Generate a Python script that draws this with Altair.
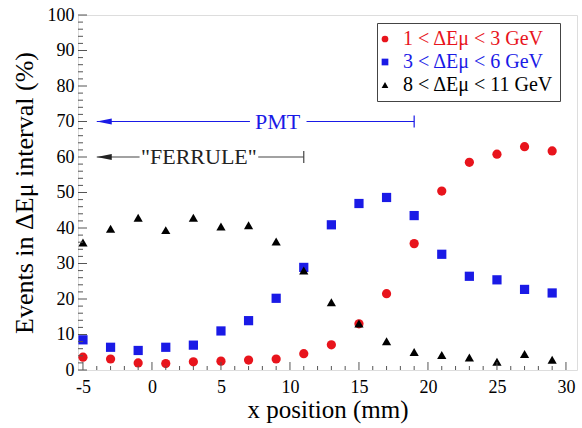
import altair as alt
import pandas as pd

# ---------------- data ----------------
x_pos = [-5, -3, -1, 1, 3, 5, 7, 9, 11, 13, 15, 17, 19, 21, 23, 25, 27, 29]
low_e = [3.6, 3.1, 2.0, 1.8, 2.3, 2.5, 2.8, 3.1, 4.6, 7.1, 13.0, 21.5, 35.6, 50.4, 58.5, 60.8, 62.9, 61.7]
mid_e = [8.5, 6.4, 5.5, 6.4, 7.0, 11.0, 13.9, 20.2, 28.9, 40.9, 46.9, 48.6, 43.5, 32.6, 26.4, 25.4, 22.7, 21.7]
high_e = [35.9, 39.8, 42.9, 39.4, 42.9, 40.4, 40.8, 36.2, 28.0, 19.1, 13.1, 8.1, 5.1, 4.2, 3.5, 2.3, 4.5, 2.9]

series = ["1 < ΔEμ < 3 GeV", "3 < ΔEμ < 6 GeV", "8 < ΔEμ < 11 GeV"]
colors = ["#e8141c", "#1a1ae6", "#000000"]
shapes = ["circle", "square", "triangle-up"]

x_major = [-5, 0, 5, 10, 15, 20, 25, 30]
x_minor = [v for v in range(-4, 31) if v % 5 != 0]
y_major = list(range(0, 101, 10))
y_minor = [v for v in range(2, 100, 2) if v % 10 != 0]

ann_labels = ["PMT", '"FERRULE"']
ann_label_x = [9.1, 3.4]
ann_y = [70, 60]
ann_colors = ["#1a1ae6", "#222222"]
seg_x = [-4, 11.2, -4, 7.7]
seg_x2 = [7.1, 19, -0.9, 11]
seg_y = [70, 70, 60, 60]
seg_c = ["#1a1ae6", "#1a1ae6", "#444444", "#444444"]
tip_x = [-4, -4]
end_x = [19, 11]

# ---------------- tables ----------------
df = pd.DataFrame({
    "x": x_pos * 3,
    "y": low_e + mid_e + high_e,
    "series": [series[0]] * len(x_pos) + [series[1]] * len(x_pos) + [series[2]] * len(x_pos),
})

W, H = 499, 355
FONT = "Liberation Serif"
xscale = alt.Scale(domain=[-5.36, 30.8], nice=False, zero=False)
yscale = alt.Scale(domain=[0, 100], nice=False, zero=False)

xaxis = alt.Axis(values=x_major, ticks=False, domain=False, grid=False,
                 labelExpr="'' + datum.value", labelPadding=8,
                 labelFont=FONT, labelFontSize=18, labelColor="black",
                 titleFont=FONT, titleFontSize=25, titleFontWeight="normal",
                 titleColor="black", titlePadding=1)
yaxis = alt.Axis(values=y_major, ticks=False, domain=False, grid=False,
                 labelPadding=4, labelFont=FONT, labelFontSize=18, labelColor="black",
                 titleFont=FONT, titleFontSize=26, titleFontWeight="normal",
                 titleColor="black", titlePadding=10)
XT = "x position (mm)"
YT = "Events in ΔEμ interval (%)"

legend = alt.Legend(
    title=None, orient="none", legendX=299, legendY=8,
    strokeColor="#444444", fillColor="white", padding=6,
    labelFont=FONT, labelFontSize=20, symbolSize=45, symbolStrokeWidth=0,
    rowPadding=3, labelOffset=8, symbolOffset=-8,
    labelColor={"expr": "indexof(datum.label, '1 <') == 0 ? '#e8141c' : (indexof(datum.label, '3 <') == 0 ? '#1a1ae6' : '#000000')"},
)

def X(f):
    return alt.X(f, scale=xscale, axis=xaxis, title=XT)

def Y(f):
    return alt.Y(f, scale=yscale, axis=yaxis, title=YT)

points = alt.Chart(df).mark_point(filled=True, size=85, opacity=1).encode(
    x=X("x:Q"), y=Y("y:Q"),
    color=alt.Color("series:N", scale=alt.Scale(domain=series, range=colors), legend=legend),
    shape=alt.Shape("series:N", scale=alt.Scale(domain=series, range=shapes), legend=legend),
)

tick_color = "#555555"
xmaj = alt.Chart(pd.DataFrame({"v": x_major})).mark_rule(color=tick_color, strokeWidth=1).encode(
    x=X("v:Q"), y=alt.value(H), y2=alt.value(H - 8))
xmin = alt.Chart(pd.DataFrame({"v": x_minor})).mark_rule(color=tick_color, strokeWidth=1).encode(
    x=X("v:Q"), y=alt.value(H), y2=alt.value(H - 4))
ymaj = alt.Chart(pd.DataFrame({"v": y_major})).mark_rule(color=tick_color, strokeWidth=1).encode(
    y=Y("v:Q"), x=alt.value(0), x2=alt.value(9))
ymin = alt.Chart(pd.DataFrame({"v": y_minor})).mark_rule(color=tick_color, strokeWidth=1).encode(
    y=Y("v:Q"), x=alt.value(0), x2=alt.value(5))

segs = alt.Chart(pd.DataFrame({"x": seg_x, "x2": seg_x2, "y": seg_y, "c": seg_c})).mark_rule(strokeWidth=1.2).encode(
    x=X("x:Q"), x2="x2:Q", y=Y("y:Q"), color=alt.Color("c:N", scale=None))

tips = alt.Chart(pd.DataFrame({"x": tip_x, "y": ann_y, "c": ann_colors})).mark_point(
    shape="M0,0L2,-0.4L2,0.4Z", size=225, filled=True, opacity=1).encode(
    x=X("x:Q"), y=Y("y:Q"), color=alt.Color("c:N", scale=None))

ends = alt.Chart(pd.DataFrame({"x": end_x, "y": ann_y, "c": seg_c[1::2]})).mark_point(
    shape="M0,-1L0,1", size=144, filled=False, strokeWidth=1.2, opacity=1).encode(
    x=X("x:Q"), y=Y("y:Q"), color=alt.Color("c:N", scale=None))

texts = alt.Chart(pd.DataFrame({"x": ann_label_x, "y": ann_y, "t": ann_labels, "c": ann_colors})).mark_text(
    font=FONT, fontSize=22, align="center", baseline="middle").encode(
    x=X("x:Q"), y=Y("y:Q"), text="t:N", color=alt.Color("c:N", scale=None))

chart = alt.layer(points, xmaj, xmin, ymaj, ymin, segs, tips, ends, texts).properties(
    width=W, height=H,
    autosize=alt.AutoSizeParams(type="none"),
    padding={"left": 78, "top": 15, "right": 5, "bottom": 58},
).configure_view(stroke="#555555", strokeWidth=1.5).configure(background="white")

chart.save("out.html", embed_options={"renderer": "svg", "actions": False})
